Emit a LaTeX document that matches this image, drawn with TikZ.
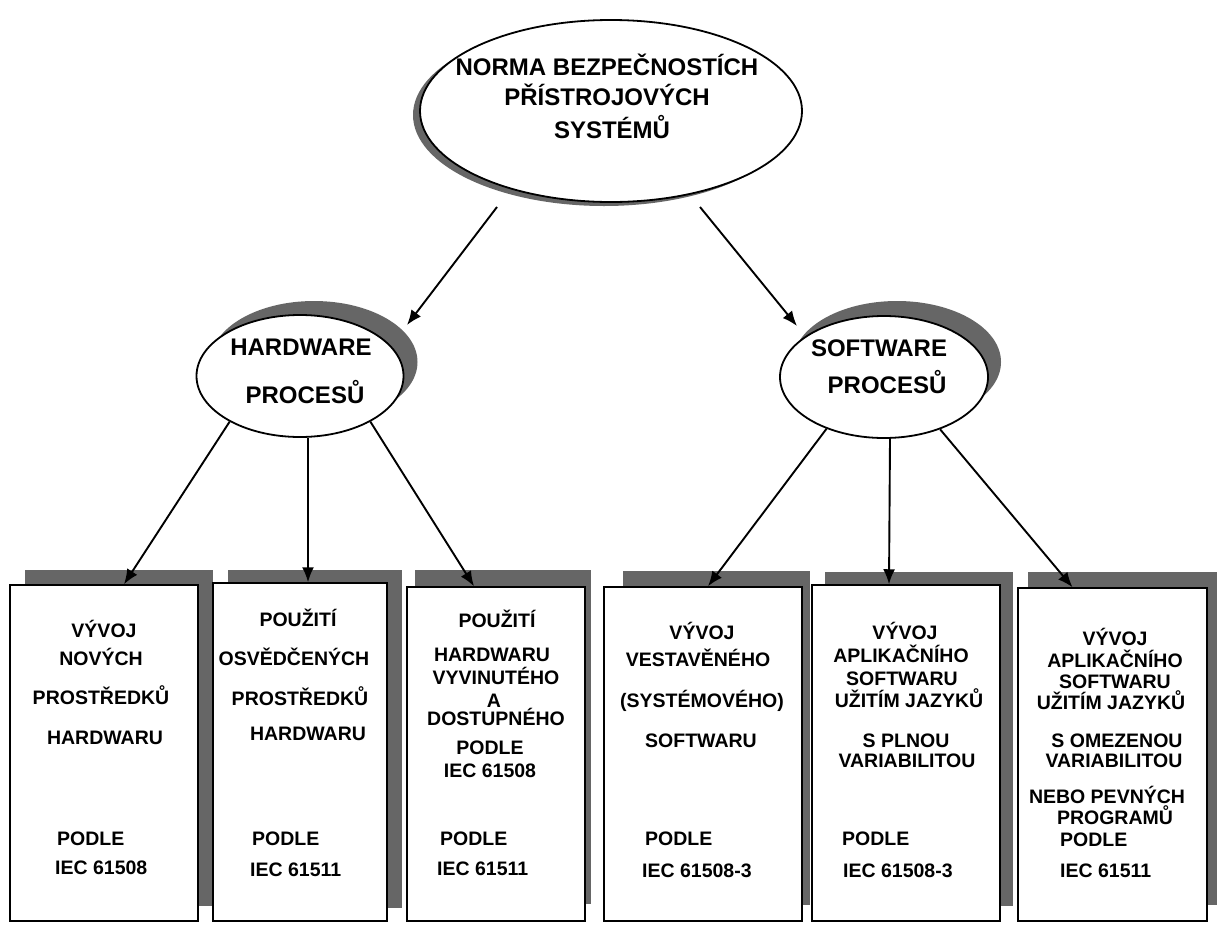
\documentclass[tikz,border=0pt]{standalone}
\usepackage{fontspec}
\setmainfont{Liberation Sans}
\usetikzlibrary{shapes.geometric,arrows.meta,calc}
\begin{document}
\begin{tikzpicture}[x=1pt,y=-1pt,
  shadowc/.style={fill=black!60,draw=none},
  ell/.style={ellipse,draw,line width=1.8pt,fill=white,inner sep=0pt},
  ellsh/.style={ellipse,shadowc,inner sep=0pt},
  boxn/.style={rectangle,draw,line width=1.5pt,fill=white,inner sep=0pt},
  bt/.style={font=\fontsize{19.5}{22}\selectfont\bfseries,anchor=base,inner sep=0pt},
  btl/.style={bt,anchor=base west},
  et/.style={font=\fontsize{24}{27}\selectfont\bfseries,anchor=base,inner sep=0pt},
  arr/.style={line width=1.9pt,-{Latex[length=15pt,width=12pt]}}
]
\useasboundingbox (0,0) rectangle (1217,924);
\fill[white] (0,0) rectangle (1217,924);

% ---- top ellipse
\node[ellsh,minimum width=382pt,minimum height=182pt] (topsh) at (604,115) {};
\node[ell,minimum width=382pt,minimum height=182pt] (top) at (611,111) {};
\node[et] (t1) at (607,75) {NORMA BEZPEČNOSTÍCH};
\node[et] (t2) at (607,105) {PŘÍSTROJOVÝCH};
\node[et] (t3) at (612,138) {SYSTÉMŮ};

% ---- hardware ellipse
\node[ellsh,minimum width=207pt,minimum height=122pt] (hwsh) at (314,362) {};
\node[ell,minimum width=207pt,minimum height=122pt] (hw) at (300,376) {};
\node[et] (h1) at (301,355) {HARDWARE};
\node[et] (h2) at (305,403) {PROCESŮ};

% ---- software ellipse
\node[ellsh,minimum width=208pt,minimum height=122pt] (swsh) at (897,362) {};
\node[ell,minimum width=208pt,minimum height=122pt] (sw) at (884,377) {};
\node[et] (s1) at (879,356) {SOFTWARE};
\node[et] (s2) at (887,393) {PROCESŮ};

% ---- top arrows
\coordinate (ta) at (497,207);
\coordinate (tb) at (700,207);
\coordinate (hwin) at (407,325);
\coordinate (swin) at (797,326);
\draw[arr] (ta) -- (hwin);
\draw[arr] (tb) -- (swin);

% ---- box shadows
\fill[shadowc] (25,570) rectangle (213,906);
\fill[shadowc] (228,570) rectangle (402,908);
\fill[shadowc] (415,570) rectangle (591,904);
\fill[shadowc] (623,571) rectangle (810,905);
\fill[shadowc] (825,572) rectangle (1013,906);
\fill[shadowc] (1028,572) rectangle (1217,905);

% ---- boxes
\node[boxn,minimum width=188pt,minimum height=336pt] (b1) at (104,753) {};
\node[boxn,minimum width=174pt,minimum height=338pt] (b2) at (300,752) {};
\node[boxn,minimum width=178pt,minimum height=334pt] (b3) at (496,754) {};
\node[boxn,minimum width=198pt,minimum height=334pt] (b4) at (703,754) {};
\node[boxn,minimum width=188pt,minimum height=336pt] (b5) at (906,753) {};
\node[boxn,minimum width=189pt,minimum height=333pt] (b6) at (1112.5,754.5) {};

% ---- lower arrows
\draw[arr] (hw.213) -- ($(b1.north)+(20,0)$);
\draw[arr] ($(hw.south)+(8,0)$) -- ($(b2.north)+(8,0)$);
\draw[arr] (hw.-33) -- ($(b3.north)+(-22,0)$);
\draw[arr] (sw.222) -- ($(b4.north)+(5,0)$);
\draw[arr] ($(sw.south)+(6,0)$) -- ($(b5.north)+(-17,0)$);
\draw[arr] (sw.-43) -- ($(b6.north)+(-40,0)$);

% ---- box 1
\node[bt] (b1a) at (104,637) {VÝVOJ};
\node[bt] (b1b) at (101,665) {NOVÝCH};
\node[bt] (b1c) at (101,704) {PROSTŘEDKŮ};
\node[bt] (b1d) at (105,744) {HARDWARU};
\node[btl] (b1e) at (57,845) {PODLE};
\node[btl] (b1f) at (55,874) {IEC 61508};

% ---- box 2
\node[bt] (b2a) at (298,626) {POUŽITÍ};
\node[bt] (b2b) at (294,665) {OSVĚDČENÝCH};
\node[bt] (b2c) at (300,705) {PROSTŘEDKŮ};
\node[bt] (b2d) at (308,740) {HARDWARU};
\node[btl] (b2e) at (252,845) {PODLE};
\node[btl] (b2f) at (250,876) {IEC 61511};

% ---- box 3
\node[bt] (b3a) at (497,627) {POUŽITÍ};
\node[bt] (b3b) at (492,661) {HARDWARU};
\node[bt] (b3c) at (496,684) {VYVINUTÉHO};
\node[bt] (b3d) at (494,707) {A};
\node[bt] (b3e) at (496,725) {DOSTUPNÉHO};
\node[bt] (b3f) at (490,754) {PODLE};
\node[bt] (b3g) at (490,777) {IEC 61508};
\node[btl] (b3h) at (440,845) {PODLE};
\node[btl] (b3i) at (437,875) {IEC 61511};

% ---- box 4
\node[bt] (b4a) at (702,639) {VÝVOJ};
\node[bt] (b4b) at (698,666) {VESTAVĚNÉHO};
\node[bt] (b4c) at (702,707) {(SYSTÉMOVÉHO)};
\node[bt] (b4d) at (701,747) {SOFTWARU};
\node[btl] (b4e) at (645,845) {PODLE};
\node[btl] (b4f) at (642,877) {IEC 61508-3};

% ---- box 5
\node[bt] (b5a) at (905,639) {VÝVOJ};
\node[bt] (b5b) at (901,662) {APLIKAČNÍHO};
\node[bt] (b5c) at (902,685) {SOFTWARU};
\node[bt] (b5d) at (909,707) {UŽITÍM JAZYKŮ};
\node[bt] (b5e) at (906,747) {S PLNOU};
\node[bt] (b5f) at (907,767) {VARIABILITOU};
\node[btl] (b5g) at (842,845) {PODLE};
\node[btl] (b5h) at (843,877) {IEC 61508-3};

% ---- box 6
\node[bt] (b6a) at (1115,645) {VÝVOJ};
\node[bt] (b6b) at (1115,667) {APLIKAČNÍHO};
\node[bt] (b6c) at (1115,688) {SOFTWARU};
\node[bt] (b6d) at (1111,709) {UŽITÍM JAZYKŮ};
\node[bt] (b6e) at (1117,747) {S OMEZENOU};
\node[bt] (b6f) at (1114,767) {VARIABILITOU};
\node[bt] (b6g) at (1107,803) {NEBO PEVNÝCH};
\node[bt] (b6h) at (1115,824) {PROGRAMŮ};
\node[btl] (b6i) at (1060,846) {PODLE};
\node[btl] (b6j) at (1060,877) {IEC 61511};
\end{tikzpicture}
\end{document}
